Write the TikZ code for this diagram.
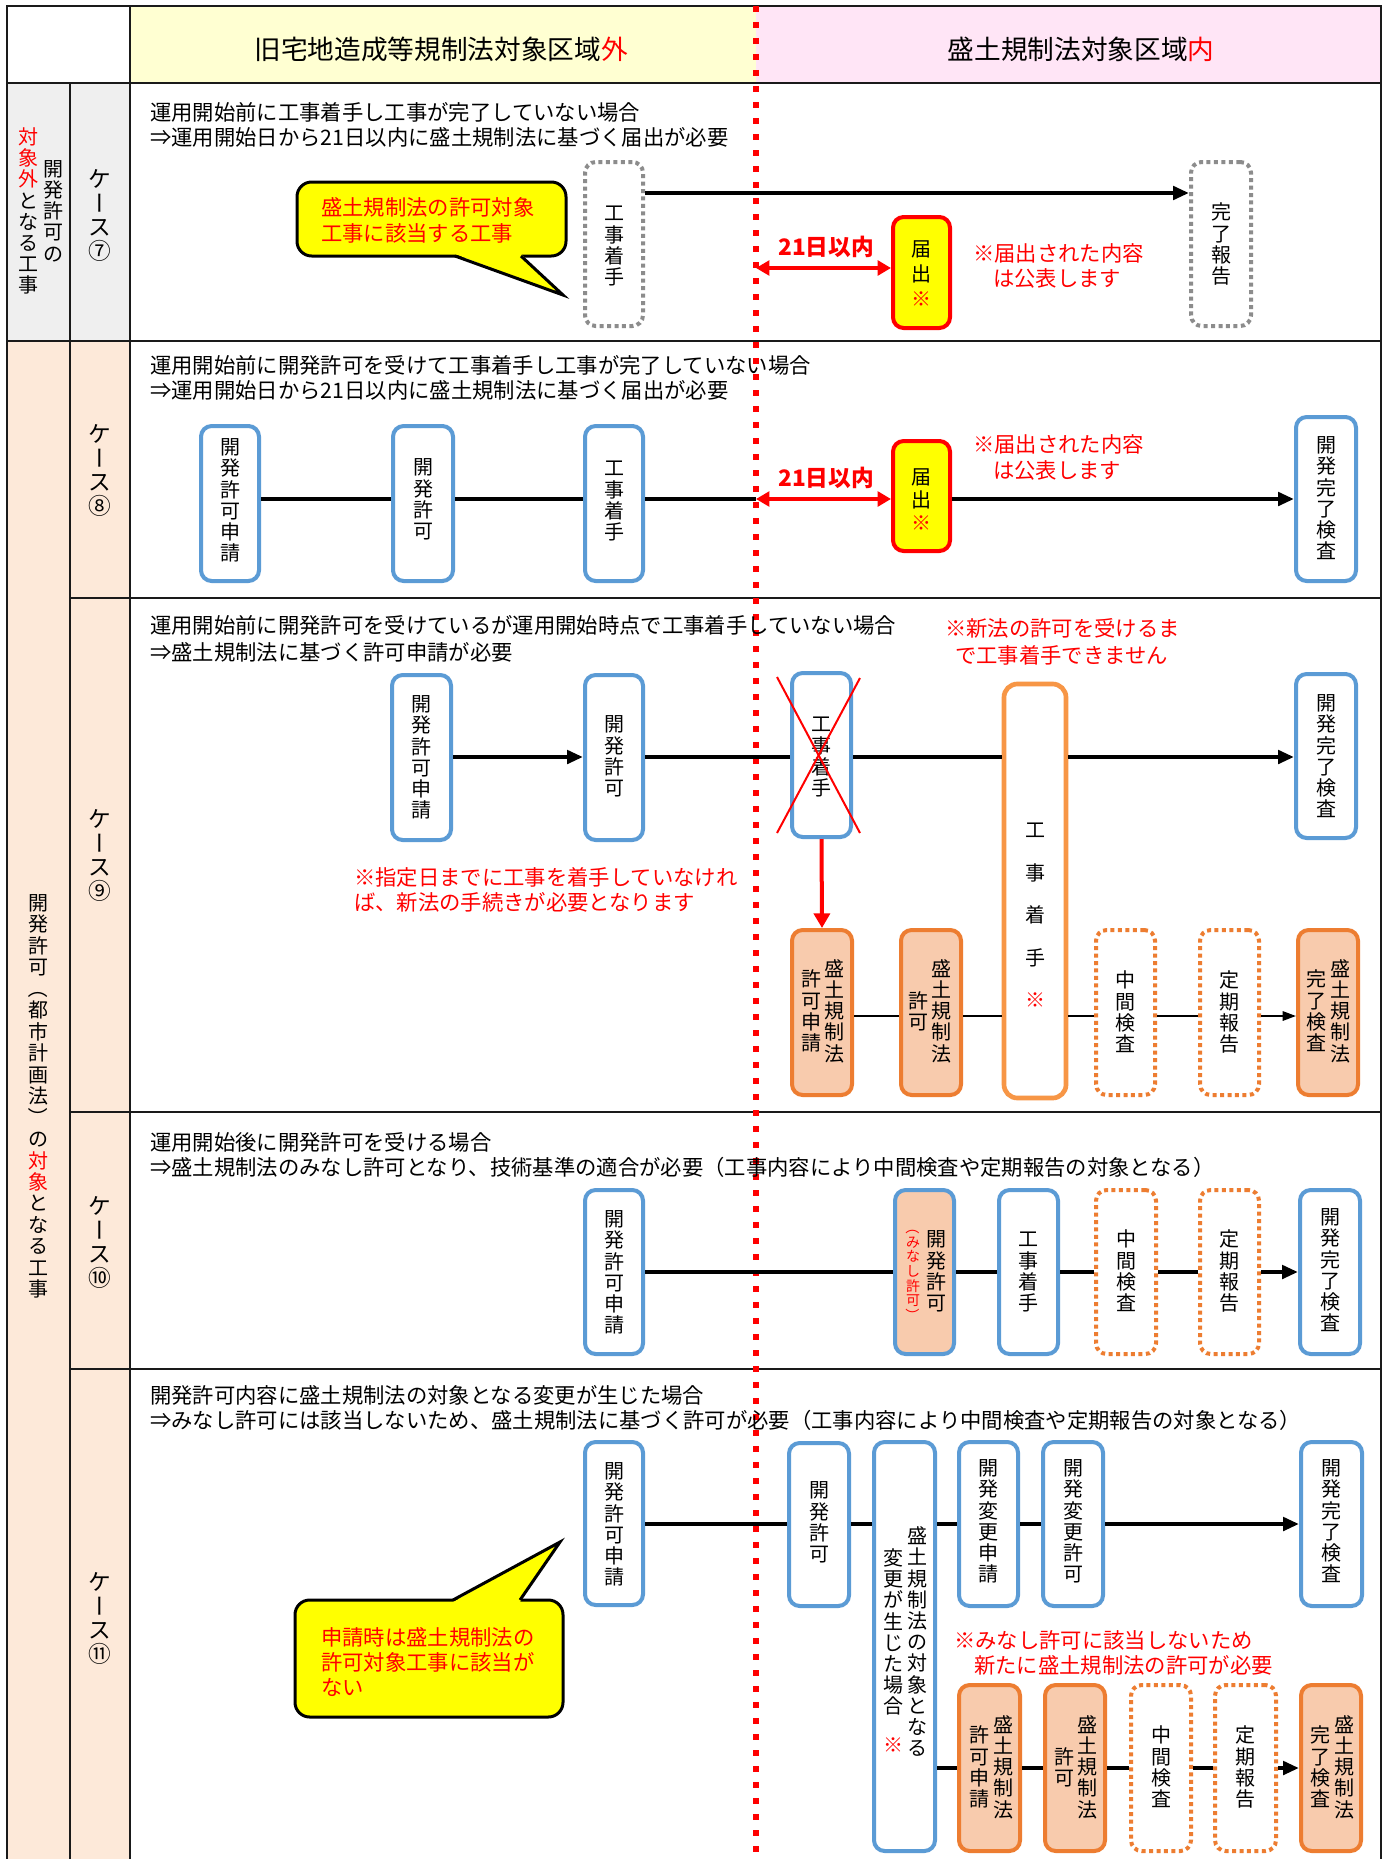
\documentclass[tikz,border=0pt]{standalone}
\usepackage{fontspec}
\setmainfont{Noto Sans CJK JP}
\usepackage{graphicx}
\usetikzlibrary{arrows.meta,fit}
\definecolor{bblue}{HTML}{5B9BD5}
\definecolor{borange}{HTML}{ED7D31}
\definecolor{lorange}{HTML}{F79646}
\definecolor{pfill}{HTML}{F8CBAD}
\definecolor{hyellow}{HTML}{FFFFD2}
\definecolor{hpink}{HTML}{FFE5F6}
\definecolor{cgray}{HTML}{EFEFEF}
\definecolor{cpeach}{HTML}{FDE9D9}
\definecolor{dgray}{HTML}{8C8C8C}
\definecolor{cyel}{HTML}{FFFF00}
\definecolor{gridc}{HTML}{1A1A1A}
\newcommand\redc[1]{\textcolor{red}{#1}}
\newcommand\mybar{\rotatebox[origin=c]{90}{\vphantom{国}ー}}
\newcommand\myopl{\rotatebox[origin=c]{-90}{\vphantom{国}（}}
\newcommand\myopr{\rotatebox[origin=c]{-90}{\vphantom{国}）}}
% vertical column of characters: name, x, y-centre, count, font size, baselineskip, options, chars
\newcommand\vcol[8]{\node[inner sep=0pt, anchor=base, font=\fontsize{#5}{#6}\selectfont, #7] (#1) at (#2,{#3-(#4-1)*#6/1.5+0.5067*#5}) {\vtop{\let\\\cr\halign{\hfil##\hfil\cr#8\crcr}}};}
\newcommand\bcol[5]{\vcol{#1}{#2}{#3}{#4}{15}{15.9}{}{#5}}
\tikzset{
  gridl/.style={draw=gridc, line width=1.5pt},
  bbox/.style={draw=bblue, line width=3pt, rounded corners=8pt, fill=white, inner sep=0pt},
  obox/.style={draw=borange, line width=3pt, rounded corners=8pt, fill=pfill, inner sep=0pt},
  odot/.style={draw=borange, line width=3pt, dash pattern=on 3pt off 2.6pt, rounded corners=8pt, fill=white, inner sep=0pt},
  gdot/.style={draw=dgray, line width=3pt, dash pattern=on 3pt off 2.6pt, rounded corners=8pt, fill=white, inner sep=0pt},
  ybox/.style={draw=red, line width=3pt, rounded corners=8pt, fill=cyel, inner sep=0pt},
  bigo/.style={draw=lorange, line width=3.5pt, rounded corners=10pt, fill=white, inner sep=0pt},
  flow/.style={line width=3pt},
  flowa/.style={line width=3pt, -{Triangle[length=12pt,width=10pt]}},
  tflow/.style={line width=1.5pt},
  tflowa/.style={line width=1.5pt, -{Triangle[length=10pt,width=7pt]}},
  rarr/.style={draw=red, line width=3pt, {Triangle[length=10pt,width=11pt]}-{Triangle[length=10pt,width=11pt]}},
  rdown/.style={draw=red, line width=3pt, -{Triangle[length=11pt,width=12pt]}},
  body/.style={font=\fontsize{16}{19}\selectfont, anchor=west, inner sep=0pt},
  note/.style={body, text=red},
  hdr/.style={font=\fontsize{20}{24}\selectfont, inner sep=0pt},
  callout/.style={draw=black, line width=2.25pt, fill=cyel, rounded corners=11pt, inner sep=0pt},
  redx/.style={draw=red, line width=1.5pt},
  rdots/.style={draw=red, line width=5pt, dash pattern=on 4.5pt off 7.5pt},
  rlab/.style={font=\bfseries\fontsize{17}{20}\selectfont, text=red, inner sep=0pt},
}
\begin{document}
\begin{tikzpicture}[x=0.75pt,y=-0.75pt]
\useasboundingbox (0,0) rectangle (1387,1859);
\fill[white] (0,0) rectangle (1387,1859);
% backgrounds
\fill[hyellow] (130,6) rectangle (756,83);
\fill[hpink] (756,6) rectangle (1381,83);
\fill[cgray] (7,83) rectangle (130,341);
\fill[cpeach] (7,341) rectangle (130,1859);
% grid
\draw[gridl] (7,1859) -- (7,6) -- (1381,6) -- (1381,1859);
\draw[gridl] (7,83) -- (1381,83);
\draw[gridl] (7,341) -- (1381,341);
\draw[gridl] (70,598) -- (1381,598);
\draw[gridl] (70,1112) -- (1381,1112);
\draw[gridl] (70,1369) -- (1381,1369);
\draw[gridl] (70,83) -- (70,1859);
\draw[gridl] (130,6) -- (130,1859);
% headers
\node[hdr] (h1) at (441,49) {旧宅地造成等規制法対象区域\redc{外}};
\node[hdr] (h2) at (1081,49) {盛土規制法対象区域\redc{内}};
% side labels
\vcol{g7a}{28}{211}{8}{15}{15.9}{}{\redc{対}\\\redc{象}\\\redc{外}\\と\\な\\る\\工\\事}
\vcol{g7b}{53}{211}{5}{15}{15.9}{}{開\\発\\許\\可\\の}
\vcol{g8}{38}{1096}{19}{15}{16.1}{}{開\\発\\許\\可\\\myopl\\都\\市\\計\\画\\法\\\myopr\\の\\\redc{対}\\\redc{象}\\と\\な\\る\\工\\事}
\vcol{c7}{100}{215}{4}{17}{18}{}{ケ\\\mybar\\ス\\⑦}
\vcol{c8}{100}{470}{4}{17}{18}{}{ケ\\\mybar\\ス\\⑧}
\vcol{c9}{100}{855}{4}{17}{18}{}{ケ\\\mybar\\ス\\⑨}
\vcol{c10}{100}{1242}{4}{17}{18}{}{ケ\\\mybar\\ス\\⑩}
\vcol{c11}{100}{1618}{4}{17}{18}{}{ケ\\\mybar\\ス\\⑪}
% red dotted boundary
\coordinate (vt) at (756,6);
\coordinate (vb) at (756,1859);
\draw[rdots] (vt) -- (vb);
% row coordinates
\coordinate (r7) at (0,193);
\coordinate (v7) at (756,268);
\coordinate (r8) at (0,499);
\coordinate (v8) at (756,499);
\coordinate (r9) at (0,757);
\coordinate (r9b) at (0,1016);
\coordinate (r10) at (0,1272);
\coordinate (r11) at (0,1524);
\coordinate (r11b) at (0,1768);

% ===== Case 7 =====
\node[body] (t7a) at (150,112) {運用開始前に工事着手し工事が完了していない場合};
\node[body] (t7b) at (150,137) {⇒運用開始日から21日以内に盛土規制法に基づく届出が必要};
\node[callout, fit={(297,182)(566,256)}] (co7) {};
\fill[cyel] (455,254) -- (563,295) -- (521,254) -- cycle;
\draw[line width=2.25pt] (455,256) -- (563,295) -- (521,256);
\node[note] (co7a) at (321,207) {盛土規制法の許可対象};
\node[note] (co7b) at (321,233) {工事に該当する工事};
\node[gdot, fit={(585,162)(643,326)}] (k7a) {};
\node[gdot, fit={(1191,162)(1251,326)}] (k7b) {};
\node[ybox, fit={(893,217)(950,328)}] (k7c) {};
\bcol{k7at}{614}{245}{4}{工\\事\\着\\手}
\bcol{k7bt}{1221}{244}{4}{完\\了\\報\\告}
\vcol{k7ct}{921.5}{274}{3}{15}{19}{}{届\\出\\\redc{※}}
\draw[flowa] (k7a.east |- r7) -- (k7b.west |- r7);
\draw[rarr] (v7) -- (k7c.west |- v7);
\node[rlab] (d7) at (826,247) {21日以内};
\node[note] (n7a) at (973,253) {※届出された内容};
\node[note] (n7b) at (993,278) {は公表します};

% ===== Case 8 =====
\node[body] (t8a) at (150,365) {運用開始前に開発許可を受けて工事着手し工事が完了していない場合};
\node[body] (t8b) at (150,390) {⇒運用開始日から21日以内に盛土規制法に基づく届出が必要};
\node[bbox, fit={(201,426)(259,581)}] (k8a) {};
\node[bbox, fit={(393,426)(453,581)}] (k8b) {};
\node[bbox, fit={(585,426)(643,581)}] (k8c) {};
\node[ybox, fit={(893,441)(950,551)}] (k8d) {};
\node[bbox, fit={(1296,417)(1356,581)}] (k8e) {};
\bcol{k8at}{230}{500}{6}{開\\発\\許\\可\\申\\請}
\bcol{k8bt}{423}{499}{4}{開\\発\\許\\可}
\bcol{k8ct}{614}{500}{4}{工\\事\\着\\手}
\vcol{k8dt}{921.5}{500}{3}{15}{17.25}{}{届\\出\\\redc{※}}
\bcol{k8et}{1326}{498}{6}{開\\発\\完\\了\\検\\査}
\draw[flow] (k8a.east |- r8) -- (k8b.west |- r8);
\draw[flow] (k8b.east |- r8) -- (k8c.west |- r8);
\draw[flow] (k8c.east |- r8) -- (v8);
\draw[rarr] (v8) -- (k8d.west |- v8);
\draw[flowa] (k8d.east |- r8) -- (k8e.west |- r8);
\node[rlab] (d8) at (826,478) {21日以内};
\node[note] (n8a) at (973,444) {※届出された内容};
\node[note] (n8b) at (993,470) {は公表します};

% ===== Case 9 =====
\node[body] (t9a) at (150,625) {運用開始前に開発許可を受けているが運用開始時点で工事着手していない場合};
\node[body] (t9b) at (150,652) {⇒盛土規制法に基づく許可申請が必要};
\node[note] (n9a) at (945,628) {※新法の許可を受けるま};
\node[note] (n9b) at (955,655) {で工事着手できません};
\node[note] (n9c) at (354,877) {※指定日までに工事を着手していなけれ};
\node[note] (n9d) at (354,902) {ば、新法の手続きが必要となります};
\node[bbox, fit={(392,675)(451,840)}] (k9a) {};
\node[bbox, fit={(585,675)(643,840)}] (k9b) {};
\node[bbox, fit={(792,673)(851,837)}] (k9c) {};
\node[bigo, fit={(1004,684)(1066,1098)}] (k9d) {};
\node[bbox, fit={(1296,674)(1356,838)}] (k9e) {};
\node[obox, fit={(792,930)(852,1095)}] (k9f) {};
\node[obox, fit={(901,930)(961,1095)}] (k9g) {};
\node[odot, fit={(1096,930)(1155,1095)}] (k9h) {};
\node[odot, fit={(1200,930)(1259,1095)}] (k9i) {};
\node[obox, fit={(1298,930)(1358,1095)}] (k9j) {};
\bcol{k9at}{421.5}{757}{6}{開\\発\\許\\可\\申\\請}
\bcol{k9bt}{614}{756}{4}{開\\発\\許\\可}
\bcol{k9ct}{821.5}{756}{4}{工\\事\\着\\手}
\vcol{k9dt}{1035}{915}{5}{15}{31.9}{}{工\\事\\着\\手\\\redc{※}}
\bcol{k9et}{1326}{756}{6}{開\\発\\完\\了\\検\\査}
\bcol{k9fr}{834}{1011}{5}{盛\\土\\規\\制\\法}
\bcol{k9fl}{811}{1011}{4}{許\\可\\申\\請}
\bcol{k9gr}{941}{1011}{5}{盛\\土\\規\\制\\法}
\bcol{k9gl}{918}{1011}{2}{許\\可}
\bcol{k9ht}{1125.5}{1012}{4}{中\\間\\検\\査}
\bcol{k9it}{1229.5}{1012}{4}{定\\期\\報\\告}
\bcol{k9jr}{1340}{1011}{5}{盛\\土\\規\\制\\法}
\bcol{k9jl}{1316}{1011}{4}{完\\了\\検\\査}
\draw[flowa] (k9a.east |- r9) -- (k9b.west |- r9);
\draw[flow] (k9b.east |- r9) -- (k9c.west |- r9);
\draw[flow] (k9c.east |- r9) -- (k9d.west |- r9);
\draw[flowa] (k9d.east |- r9) -- (k9e.west |- r9);
\draw[redx] (777,677) -- (860,833);
\draw[redx] (860,678) -- (777,833);
\draw[rdown] (k9c.south) -- (k9f.north);
\draw[tflow] (k9f.east |- r9b) -- (k9g.west |- r9b);
\draw[tflow] (k9g.east |- r9b) -- (k9d.west |- r9b);
\draw[tflow] (k9d.east |- r9b) -- (k9h.west |- r9b);
\draw[tflow] (k9h.east |- r9b) -- (k9i.west |- r9b);
\draw[tflowa] (k9i.east |- r9b) -- (k9j.west |- r9b);

% ===== Case 10 =====
\node[body] (t10a) at (150,1142) {運用開始後に開発許可を受ける場合};
\node[body] (t10b) at (150,1167) {⇒盛土規制法のみなし許可となり、技術基準の適合が必要（工事内容により中間検査や定期報告の対象となる）};
\node[bbox, fit={(585,1190)(643,1354)}] (k10a) {};
\node[bbox, fill=pfill, fit={(895,1190)(954,1354)}] (k10b) {};
\node[bbox, fit={(999,1190)(1058,1354)}] (k10c) {};
\node[odot, fit={(1096,1190)(1156,1354)}] (k10d) {};
\node[odot, fit={(1200,1190)(1259,1354)}] (k10e) {};
\node[bbox, fit={(1300,1190)(1360,1354)}] (k10f) {};
\bcol{k10at}{614}{1272}{6}{開\\発\\許\\可\\申\\請}
\bcol{k10br}{936}{1271}{4}{開\\発\\許\\可}
\vcol{k10bl}{913}{1271}{7}{10.5}{11}{text=red}{\myopl\\み\\な\\し\\許\\可\\\myopr}
\bcol{k10ct}{1028.5}{1271}{4}{工\\事\\着\\手}
\bcol{k10dt}{1126}{1271}{4}{中\\間\\検\\査}
\bcol{k10et}{1229.5}{1271}{4}{定\\期\\報\\告}
\bcol{k10ft}{1330}{1270}{6}{開\\発\\完\\了\\検\\査}
\draw[flow] (k10a.east |- r10) -- (k10b.west |- r10);
\draw[flow] (k10b.east |- r10) -- (k10c.west |- r10);
\draw[flow] (k10c.east |- r10) -- (k10d.west |- r10);
\draw[flow] (k10d.east |- r10) -- (k10e.west |- r10);
\draw[flowa] (k10e.east |- r10) -- (k10f.west |- r10);

% ===== Case 11 =====
\node[body] (t11a) at (150,1395) {開発許可内容に盛土規制法の対象となる変更が生じた場合};
\node[body] (t11b) at (150,1420) {⇒みなし許可には該当しないため、盛土規制法に基づく許可が必要（工事内容により中間検査や定期報告の対象となる）};
\node[bbox, fit={(585,1442)(643,1605)}] (k11a) {};
\node[bbox, fit={(789,1443)(849,1606)}] (k11b) {};
\node[bbox, fit={(874,1442)(935,1851)}] (k11c) {};
\node[bbox, fit={(959,1442)(1018,1606)}] (k11d) {};
\node[bbox, fit={(1043,1442)(1103,1606)}] (k11e) {};
\node[bbox, fit={(1301,1442)(1362,1606)}] (k11f) {};
\node[obox, fit={(959,1685)(1020,1851)}] (k11g) {};
\node[obox, fit={(1045,1685)(1105,1851)}] (k11h) {};
\node[odot, fit={(1131,1685)(1191,1851)}] (k11i) {};
\node[odot, fit={(1215,1685)(1276,1851)}] (k11j) {};
\node[obox, fit={(1301,1685)(1361,1851)}] (k11k) {};
\bcol{k11at}{614}{1524}{6}{開\\発\\許\\可\\申\\請}
\bcol{k11bt}{819}{1522}{4}{開\\発\\許\\可}
\bcol{k11cr}{917}{1642}{11}{盛\\土\\規\\制\\法\\の\\対\\象\\と\\な\\る}
\bcol{k11cl}{893}{1632}{8}{変\\更\\が\\生\\じ\\た\\場\\合}
\node[inner sep=0pt, text=red, font=\fontsize{15}{15.9}\selectfont] (k11cs) at (893,1745) {※};
\bcol{k11dt}{988.5}{1521}{6}{開\\発\\変\\更\\申\\請}
\bcol{k11et}{1073}{1521}{6}{開\\発\\変\\更\\許\\可}
\bcol{k11ft}{1331.5}{1521}{6}{開\\発\\完\\了\\検\\査}
\bcol{k11gr}{1003}{1767}{5}{盛\\土\\規\\制\\法}
\bcol{k11gl}{979}{1767}{4}{許\\可\\申\\請}
\bcol{k11hr}{1087}{1767}{5}{盛\\土\\規\\制\\法}
\bcol{k11hl}{1064}{1767}{2}{許\\可}
\bcol{k11it}{1161}{1767}{4}{中\\間\\検\\査}
\bcol{k11jt}{1245.5}{1767}{4}{定\\期\\報\\告}
\bcol{k11kr}{1344}{1767}{5}{盛\\土\\規\\制\\法}
\bcol{k11kl}{1320}{1767}{4}{完\\了\\検\\査}
\draw[flow] (k11a.east |- r11) -- (k11b.west |- r11);
\draw[flow] (k11b.east |- r11) -- (k11c.west |- r11);
\draw[flow] (k11c.east |- r11) -- (k11d.west |- r11);
\draw[flow] (k11d.east |- r11) -- (k11e.west |- r11);
\draw[flowa] (k11e.east |- r11) -- (k11f.west |- r11);
\draw[flow] (k11c.east |- r11b) -- (k11g.west |- r11b);
\draw[flow] (k11g.east |- r11b) -- (k11h.west |- r11b);
\draw[flow] (k11h.east |- r11b) -- (k11i.west |- r11b);
\draw[flow] (k11i.east |- r11b) -- (k11j.west |- r11b);
\draw[flowa] (k11j.east |- r11b) -- (k11k.west |- r11b);
\node[note] (n11a) at (954,1640) {※みなし許可に該当しないため};
\node[note] (n11b) at (974,1665) {新たに盛土規制法の許可が必要};
\node[callout, fit={(295,1600)(563,1717)}] (co11) {};
\fill[cyel] (453,1602) -- (560,1542) -- (520,1602) -- cycle;
\draw[line width=2.25pt] (453,1600) -- (560,1542) -- (520,1600);
\node[note] (co11a) at (321,1637) {申請時は盛土規制法の};
\node[note] (co11b) at (321,1662) {許可対象工事に該当が};
\node[note] (co11c) at (321,1687) {ない};
\end{tikzpicture}
\end{document}
